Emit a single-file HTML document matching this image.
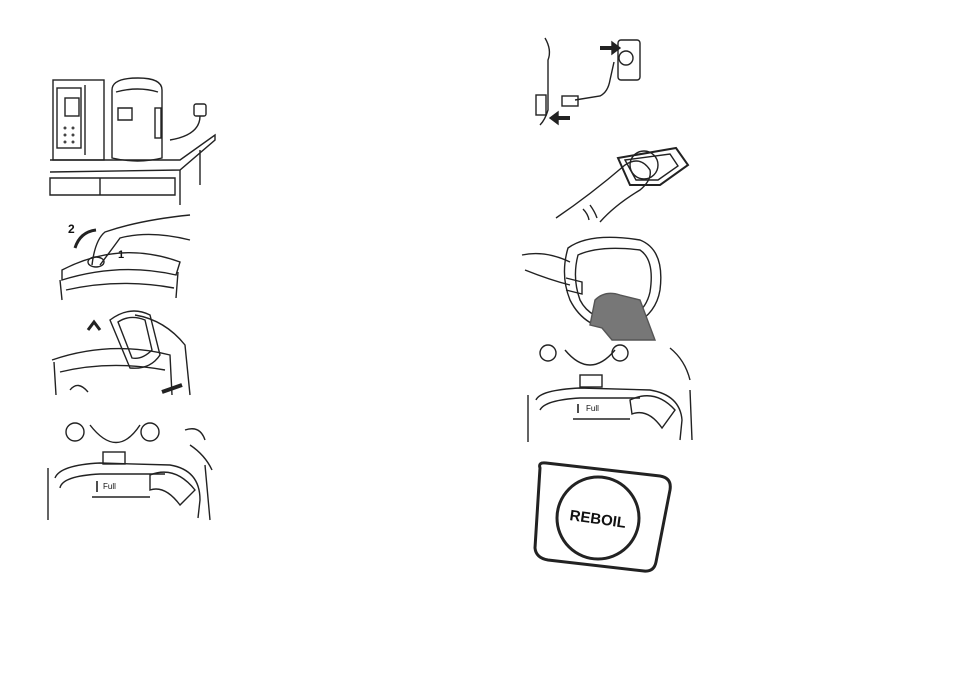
<!DOCTYPE html>
<html><head><meta charset="utf-8"><style>
html,body{margin:0;padding:0;background:#fff;}
svg{display:block;}
text{font-family:"Liberation Sans",sans-serif;}
</style></head><body>
<svg width="954" height="674" viewBox="0 0 954 674" xmlns="http://www.w3.org/2000/svg" fill="none" stroke="#222" stroke-width="1.4">
<!-- 1: microwave, kettle, counter -->
<rect x="53" y="80" width="51" height="80"/>
<rect x="57" y="88" width="24" height="60"/>
<line x1="85" y1="85" x2="85" y2="155"/>
<g fill="#444" stroke="none"><circle cx="65" cy="128" r="1.5"/><circle cx="73" cy="128" r="1.5"/><circle cx="65" cy="135" r="1.5"/><circle cx="73" cy="135" r="1.5"/><circle cx="65" cy="142" r="1.5"/><circle cx="73" cy="142" r="1.5"/></g>
<rect x="65" y="98" width="14" height="18"/>
<path d="M112 90 Q112 78 138 78 Q162 78 162 90 L162 158 Q138 164 112 158 Z"/>
<path d="M116 92 Q138 86 158 92"/>
<path d="M118 108 L132 108 L132 120 L118 120 Z"/>
<rect x="155" y="108" width="6" height="30"/>
<path d="M50 160 L180 160 L215 135 L215 140 L180 170 L50 172"/>
<path d="M50 178 L175 178 L175 195 L50 195 Z"/>
<line x1="100" y1="178" x2="100" y2="195"/>
<line x1="180" y1="170" x2="180" y2="205"/>
<line x1="200" y1="150" x2="200" y2="185"/>
<rect x="194" y="104" width="12" height="12" rx="2"/>
<path d="M200 116 Q200 135 170 140"/>
<!-- 2: lid opening -->
<text x="68" y="233" font-size="12" font-weight="bold" fill="#111" stroke="none">2</text>
<text x="118" y="258" font-size="11" font-weight="bold" fill="#111" stroke="none">1</text>
<path d="M75 248 Q80 232 96 230" stroke-width="3"/>
<path d="M62 270 Q120 240 180 262 L176 275 Q120 262 62 280 Z"/>
<path d="M60 280 L62 300 M178 272 L176 298"/>
<path d="M66 290 Q120 278 174 288"/>
<path d="M92 265 Q95 240 105 232 Q140 220 190 215"/>
<path d="M100 265 Q115 245 120 238 Q150 230 190 240"/>
<ellipse cx="96" cy="262" rx="8" ry="5"/>
<!-- 3: lid removed -->
<path d="M110 320 Q130 305 150 315 L160 355 Q150 370 130 368 Z"/>
<path d="M118 322 Q130 314 145 320 L152 350 Q142 360 132 358 Z"/>
<path d="M135 315 Q165 320 185 345 L190 395"/>
<path d="M88 330 L94 322 L100 330" stroke-width="3"/>
<path d="M52 360 Q110 340 170 355 L172 395 M54 362 L56 395"/>
<path d="M60 372 Q110 360 165 370"/>
<path d="M70 390 Q78 380 88 392"/>
<path d="M162 392 L182 385" stroke-width="4"/>
<!-- 4: kettle top with Full -->
<circle cx="75" cy="432" r="9"/><circle cx="150" cy="432" r="9"/>
<path d="M90 425 Q117 460 140 425"/>
<rect x="103" y="452" width="22" height="12"/>
<path d="M48 468 L48 520 M205 465 L210 520"/>
<path d="M55 478 Q60 465 100 463 L170 465 Q200 470 200 500 L198 518"/>
<path d="M60 488 Q62 476 100 474 L165 474"/>
<line x1="97" y1="481" x2="97" y2="492" stroke-width="1.6"/>
<text x="103" y="489" font-size="8" fill="#111" stroke="none">Full</text>
<line x1="92" y1="497" x2="150" y2="497"/>
<path d="M150 475 Q175 465 195 490 L180 505 Q165 485 150 490 Z"/>
<path d="M185 430 Q200 425 205 440 M190 445 Q205 455 212 470"/>
<!-- 5: plug -->
<path d="M545 38 Q552 50 548 60 L548 110 Q545 120 540 125"/>
<rect x="536" y="95" width="10" height="20"/>
<rect x="618" y="40" width="22" height="40" rx="3"/>
<circle cx="626" cy="58" r="7"/>
<path d="M600 48 L614 48" stroke-width="4"/>
<path d="M612 42 L620 48 L612 54 Z" fill="#222"/>
<path d="M614 62 L610 80 Q608 92 600 96 L575 100"/>
<rect x="562" y="96" width="16" height="10"/>
<path d="M570 118 L555 118" stroke-width="4"/>
<path d="M558 112 L550 118 L558 124 Z" fill="#222"/>
<!-- 6: finger -->
<path d="M618 158 L676 148 L688 165 L660 185 L630 185 Z" stroke-width="2"/>
<path d="M625 160 L670 154 L678 166 L658 180 L636 180 Z"/>
<circle cx="644" cy="165" r="14"/>
<path d="M556 218 Q590 195 625 165 Q640 155 650 170 Q652 180 640 190 Q615 205 600 222"/>
<path d="M590 205 Q595 212 597 218 M583 209 Q588 214 589 220"/>
<!-- 7: pouring -->
<path d="M568 248 Q590 232 640 240 Q665 250 660 290 Q655 320 620 330 Q585 330 570 300 Q560 275 568 248 Z"/>
<path d="M578 255 Q600 245 640 250 Q655 260 650 292 Q645 315 620 322 Q590 320 580 300 Q572 278 578 255 Z"/>
<path d="M595 300 Q605 290 620 295 L640 300 L655 340 L612 340 L602 328 L590 325 Z" fill="#777" stroke="#555"/>
<path d="M522 255 Q545 250 570 262 M525 270 Q550 280 570 285"/>
<path d="M566 278 L582 282 L582 294 L566 290"/>
<!-- 8: kettle top with Full -->
<circle cx="548" cy="353" r="8"/><circle cx="620" cy="353" r="8"/>
<path d="M565 350 Q590 380 615 350"/>
<rect x="580" y="375" width="22" height="12"/>
<path d="M528 395 L528 442 M690 390 L692 440"/>
<path d="M536 400 Q540 390 580 388 L650 390 Q680 395 682 420 L680 440"/>
<path d="M540 410 Q545 400 580 398 L640 398"/>
<line x1="578" y1="404" x2="578" y2="413" stroke-width="1.6"/>
<text x="586" y="411" font-size="8" fill="#111" stroke="none">Full</text>
<line x1="573" y1="419" x2="630" y2="419"/>
<path d="M630 400 Q655 388 675 410 L662 428 Q648 408 632 414 Z"/>
<path d="M670 348 Q685 360 690 380"/>
<!-- 9: REBOIL -->
<path d="M540 468 Q538 462 546 463 L660 476 Q672 478 670 490 L656 562 Q654 572 644 571 L548 560 Q536 558 535 548 Z" stroke-width="3"/>
<circle cx="598" cy="518" r="41" stroke-width="3"/>
<text x="598" y="524" font-size="15" font-weight="bold" fill="#111" stroke="none" text-anchor="middle" transform="rotate(8 598 518)">REBOIL</text>
</svg>
</body></html>
